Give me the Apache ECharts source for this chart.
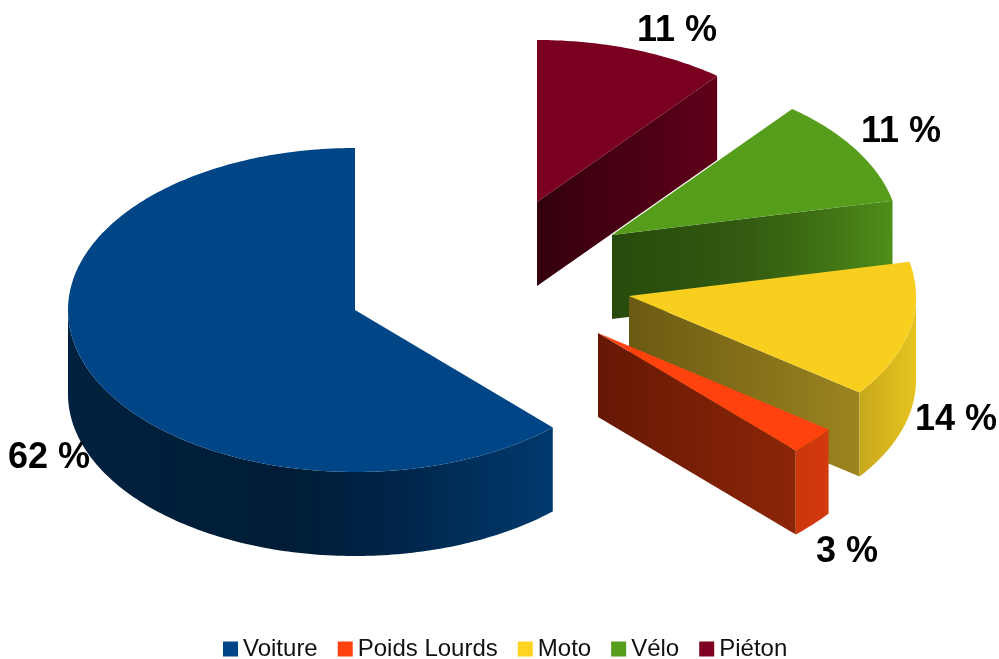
<!DOCTYPE html>
<html>
<head>
<meta charset="utf-8">
<style>
    html, body { margin: 0; padding: 0; background: #fff; }
    #chart { width: 999px; height: 659px; }
</style>
<script src="https://cdn.jsdelivr.net/npm/echarts@6/dist/echarts.min.js"></script>
</head>
<body>
<div id="chart"></div>
<script>
    // data, in legend order, going counter-clockwise from 12 o'clock
    const categories = ['Voiture', 'Poids Lourds', 'Moto', 'Vélo', 'Piéton']
    const shares = [62.1, 2.75, 13.55, 10.8, 10.8]

    // colours
    const topColors = ['#004586', '#ff420e', '#f9cf1f', '#579d1c', '#7a0020']
    const legendColors = ['#004586', '#ff420e', '#ffd320', '#579d1c', '#7e0021']
    const cutShades = [
        [[0, '#001d38'], [1, '#003a6e']],
        [[0, '#661805'], [1, '#8c2607']],
        [[0, '#6b5a12'], [1, '#9c8420']],
        [[0, '#264a0c'], [0.5, '#335c11'], [0.8, '#437615'], [1, '#4f8f1a']],
        [[0, '#33000e'], [1, '#5f0019']]
    ]
    const rimShades = [
        [[0, '#00213f'], [0.45, '#001c36'], [0.7, '#00264b'], [1, '#003a6e']],
        [[0, '#cc360b'], [1, '#d33a0c']],
        [[0, '#c8a81c'], [1, '#e6c41f']],
        [[0, '#4f8f1a'], [1, '#4f8f1a']],
        [[0, '#5f0019'], [1, '#5f0019']]
    ]

    // layout: where each exploded slice sits and where its label goes
    const sliceCenters = [[355, 310], [598, 333], [629, 296], [612, 235], [537, 202]]
    const labelCenters = [[49, 458], [847, 552], [956, 420], [901, 132], [677, 31]]
    const radiusX = 287
    const radiusY = 162
    const depth = 84

    const total = shares.reduce((a, b) => a + b, 0)

    // angles are measured clockwise from 12 o'clock, in degrees
    function sliceRange (i) {
        let before = 0
        for (let k = 0; k < i; k++) before += shares[k]
        const from = before / total * 360
        const to = (before + shares[i]) / total * 360
        return [360 - to, 360 - from]
    }

    function ellipsePoint (c, deg, drop) {
        const r = deg * Math.PI / 180
        return [c[0] + radiusX * Math.sin(r), c[1] - radiusY * Math.cos(r) + drop]
    }

    function arcPoints (c, a, b, drop) {
        const pts = []
        for (let d = a; d < b; d += 1) pts.push(ellipsePoint(c, d, drop))
        pts.push(ellipsePoint(c, b, drop))
        return pts
    }

    function hGradient (stops) {
        return new echarts.graphic.LinearGradient(0, 0, 1, 0, stops.map(s => ({ offset: s[0], color: s[1] })))
    }

    function polygon (points, fill) {
        return { type: 'polygon', shape: { points: points }, style: { fill: fill, stroke: null } }
    }

    function cutFace (i, c, deg) {
        const p = ellipsePoint(c, deg, 0)
        const q = ellipsePoint(c, deg, depth)
        const pts = [c, p, q, [c[0], c[1] + depth]]
        return polygon(pts, hGradient(cutShades[i]))
    }

    function renderSlice (i) {
        const range = sliceRange(i)
        const c = sliceCenters[i]
        const children = []

        if (range[1] < 180) children.push(cutFace(i, c, range[1]))
        if (range[0] > 180) children.push(cutFace(i, c, range[0]))

        const rimFrom = Math.max(range[0], 90)
        const rimTo = Math.min(range[1], 270)
        if (rimFrom < rimTo) {
            const rim = arcPoints(c, rimFrom, rimTo, 0).concat(arcPoints(c, rimFrom, rimTo, depth).reverse())
            children.push(polygon(rim, hGradient(rimShades[i])))
        }

        children.push(polygon([c].concat(arcPoints(c, range[0], range[1], 0)), topColors[i]))

        children.push({
            type: 'text',
            style: {
                x: labelCenters[i][0],
                y: labelCenters[i][1],
                text: Math.round(shares[i]) + ' %',
                font: 'bold 36px "Liberation Sans"',
                fill: '#000',
                align: 'center',
                verticalAlign: 'middle'
            }
        })
        return { type: 'group', children: children }
    }

    // painted back to front, last category first
    const drawOrder = [4, 3, 2, 1, 0]

    const chart = echarts.init(document.getElementById('chart'))
    chart.setOption({
        animation: false,
        backgroundColor: '#fff',
        legend: {
            data: categories.map((name, i) => ({ name: name, icon: 'rect', itemStyle: { color: legendColors[i] } })),
            selectedMode: false,
            left: 218,
            top: 632,
            itemWidth: 15,
            itemHeight: 15,
            itemGap: 20,
            textStyle: { fontFamily: 'Liberation Sans', fontSize: 24, color: '#111' }
        },
        series: drawOrder.map(i => ({
            type: 'custom',
            name: categories[i],
            coordinateSystem: 'none',
            itemStyle: { color: legendColors[i] },
            data: [shares[i]],
            renderItem: () => renderSlice(i)
        }))
    })
</script>
</body>
</html>
